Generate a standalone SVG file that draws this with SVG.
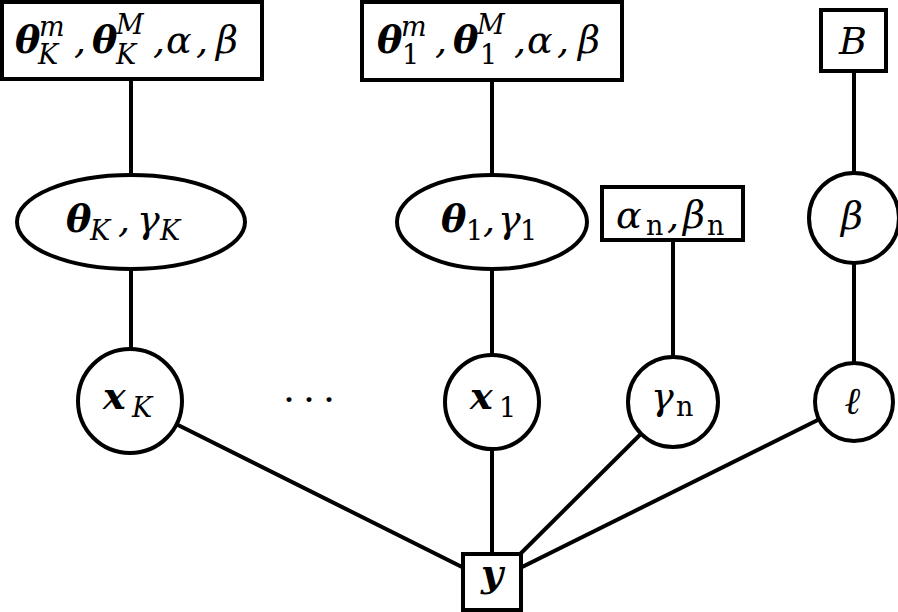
<svg xmlns="http://www.w3.org/2000/svg" width="898" height="612" viewBox="0 0 898 612">
<style>
.n{fill:#fff;stroke:#000;stroke-width:4}
.e{stroke:#000;stroke-width:4;fill:none}
text{font-family:"DejaVu Serif","Liberation Serif",serif;font-size:38px;font-style:italic;fill:#000}
.b{font-weight:bold}
.s{font-size:27px}
.r{font-style:normal}
.m{text-anchor:middle}
</style>
<rect width="898" height="612" fill="#fff"/>
<g id="connectors">
<line class="e" x1="131" y1="79" x2="131" y2="175"/>
<line class="e" x1="492" y1="80" x2="492" y2="175"/>
<line class="e" x1="854" y1="71" x2="854" y2="173"/>
<line class="e" x1="131" y1="269" x2="131" y2="349"/>
<line class="e" x1="492" y1="269" x2="492" y2="355"/>
<line class="e" x1="673" y1="240" x2="673" y2="357"/>
<line class="e" x1="854" y1="263" x2="854" y2="363"/>
<line class="e" x1="130" y1="401" x2="492" y2="582"/>
<line class="e" x1="492" y1="402" x2="492" y2="582"/>
<line class="e" x1="673" y1="402" x2="492" y2="582"/>
<line class="e" x1="854" y1="402" x2="492" y2="582"/>
</g>
<g id="prior-K">
<rect class="n" x="2" y="2" width="260" height="77"/>
<text><tspan class="b" x="15" y="53">θ</tspan><tspan class="s" x="39" y="36">m</tspan><tspan class="s" x="38" y="64">K</tspan><tspan x="74" y="53">,</tspan><tspan class="b" x="92" y="53">θ</tspan><tspan class="s" x="116" y="34">M</tspan><tspan class="s" x="116" y="64">K</tspan><tspan x="153" y="53">,</tspan><tspan x="166" y="53">α</tspan><tspan x="196" y="53">,</tspan><tspan x="216" y="53">β</tspan></text>
</g>
<g id="prior-1">
<rect class="n" x="362" y="2" width="260" height="78"/>
<text><tspan class="b" x="377" y="53">θ</tspan><tspan class="s" x="401" y="36">m</tspan><tspan class="s r" x="402" y="64">1</tspan><tspan x="435" y="53">,</tspan><tspan class="b" x="453" y="53">θ</tspan><tspan class="s" x="477" y="34">M</tspan><tspan class="s r" x="480" y="64">1</tspan><tspan x="514" y="53">,</tspan><tspan x="527" y="53">α</tspan><tspan x="557" y="53">,</tspan><tspan x="578" y="53">β</tspan></text>
</g>
<g id="prior-B">
<rect class="n" x="821" y="10" width="65" height="61"/>
<text class="m" x="853" y="54">B</text>
</g>
<g id="theta-K">
<ellipse class="n" cx="131" cy="222" rx="114" ry="47"/>
<text><tspan class="b" x="66" y="232">θ</tspan><tspan class="s" x="90" y="240">K</tspan><tspan x="118" y="232">,</tspan><tspan x="137" y="232">γ</tspan><tspan class="s" x="160" y="240">K</tspan></text>
</g>
<g id="theta-1">
<ellipse class="n" cx="492" cy="222" rx="95" ry="47"/>
<text><tspan class="b" x="441" y="232">θ</tspan><tspan class="s r" x="466" y="240">1</tspan><tspan x="483" y="232">,</tspan><tspan x="498" y="232">γ</tspan><tspan class="s r" x="520" y="240">1</tspan></text>
</g>
<g id="alpha-beta-n">
<rect class="n" x="602" y="187" width="141" height="53"/>
<text><tspan x="616" y="228">α</tspan><tspan class="s r" x="646" y="235">n</tspan><tspan x="667" y="228">,</tspan><tspan x="683" y="228">β</tspan><tspan class="s r" x="707" y="235">n</tspan></text>
</g>
<g id="beta">
<circle class="n" cx="854" cy="218" r="45"/>
<text class="m" x="852" y="229">β</text>
</g>
<g id="x-K">
<circle class="n" cx="130" cy="401" r="52"/>
<text><tspan class="b" x="103" y="409">x</tspan><tspan class="s" x="132" y="417">K</tspan></text>
</g>
<g id="dots">
<text class="r"><tspan x="283" y="413">·</tspan><tspan x="303" y="413">·</tspan><tspan x="323" y="413">·</tspan></text>
</g>
<g id="x-1">
<circle class="n" cx="492" cy="402" r="47"/>
<text><tspan class="b" x="470" y="409">x</tspan><tspan class="s r" x="499" y="417">1</tspan></text>
</g>
<g id="gamma-n">
<circle class="n" cx="673" cy="402" r="45"/>
<text><tspan x="651" y="409">γ</tspan><tspan class="s r" x="676" y="416">n</tspan></text>
</g>
<g id="ell">
<circle class="n" cx="854" cy="402" r="39"/>
<text class="m b" x="853" y="414">ℓ</text>
</g>
<g id="y">
<rect class="n" x="463" y="554" width="58" height="56"/>
<text class="m b" x="492" y="586">y</text>
</g>
</svg>
